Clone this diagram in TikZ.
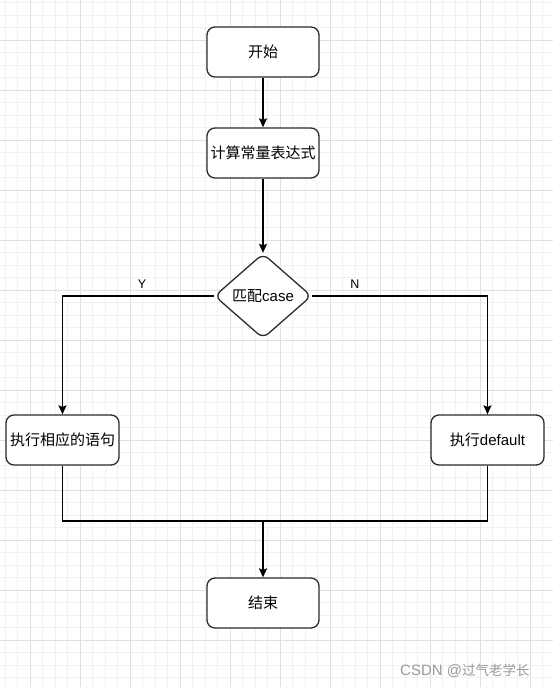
\documentclass[tikz,border=0pt]{standalone}
\usepackage{fontspec}
\setmainfont{Liberation Sans}
\newfontfamily\cjk{Noto Sans CJK SC}
\usetikzlibrary{shapes.geometric,arrows.meta}
\definecolor{gridminor}{HTML}{F1F1F1}
\definecolor{gridmajor}{HTML}{E0E0E0}
\definecolor{boxline}{HTML}{2B2B2B}
\definecolor{wmark}{HTML}{9A9A9A}
\tikzset{
  stepbox/.style={draw=boxline, line width=1.3pt, rounded corners=8pt, fill=white,
    minimum width=112pt, minimum height=50pt, inner sep=0pt,
    font=\fontsize{15pt}{17pt}\selectfont},
  decision/.style={draw=boxline, line width=1.3pt, diamond, rounded corners=7pt, fill=white,
    inner sep=0pt, aspect=1.15,
    font=\fontsize{15pt}{17pt}\selectfont},
  flow/.style={draw=black, line width=1.4pt},
  flowarrow/.style={flow, -{Stealth[length=9pt,width=8pt,inset=1.5pt]}},
  lbl/.style={font=\fontsize{12.5pt}{14pt}\selectfont, inner sep=0pt}
}
\begin{document}
\begin{tikzpicture}[x=1pt,y=-1pt]
\useasboundingbox (0,0) rectangle (553,687);
\fill[white] (0,0) rectangle (553,687);
% grid
\foreach \i in {0,...,44} { \draw[gridminor, line width=0.9pt] ({5+12.5*\i},0) -- ({5+12.5*\i},687); }
\foreach \i in {0,...,55} { \draw[gridminor, line width=0.9pt] (0,{2.5+12.5*\i}) -- (553,{2.5+12.5*\i}); }
\foreach \i in {0,...,10} { \draw[gridmajor, line width=0.9pt] ({30+50*\i},0) -- ({30+50*\i},687); }
\foreach \i in {0,...,13} { \draw[gridmajor, line width=0.9pt] (0,{40+50*\i}) -- (553,{40+50*\i}); }
% nodes
\node[stepbox] (start) at (263,52) {\cjk 开始};
\node[stepbox] (calc) at (263,153) {\cjk 计算常量表达式};
\node[decision, minimum width=97pt, minimum height=85pt] (match) at (263,296) {{\cjk 匹配}case};
\node[stepbox, minimum width=113pt] (exec) at (62.5,440) {\cjk 执行相应的语句};
\node[stepbox, minimum width=113pt] (def) at (487.5,440) {{\cjk 执行}default};
\node[stepbox] (end) at (263,603) {\cjk 结束};
\coordinate (merge) at (263,521);
% connectors
\draw[flowarrow] (start) -- (calc);
\draw[flowarrow] (calc) -- (match);
\draw[flowarrow] (match.west) -| (exec.north);
\draw[flowarrow] (match.east) -| (def.north);
\draw[flow] (exec.south) |- (merge) -| (def.south);
\draw[flowarrow] (merge) -- (end);
% labels
\node[lbl] (ylab) at (142,284) {Y};
\node[lbl] (nlab) at (355,284) {N};
\node[anchor=west, text=wmark, inner sep=0pt] (wm) at (400,671) {{\fontsize{15pt}{17pt}\selectfont CSDN @}{\cjk\fontsize{13.5pt}{15pt}\selectfont 过气老学长}};
\end{tikzpicture}
\end{document}
